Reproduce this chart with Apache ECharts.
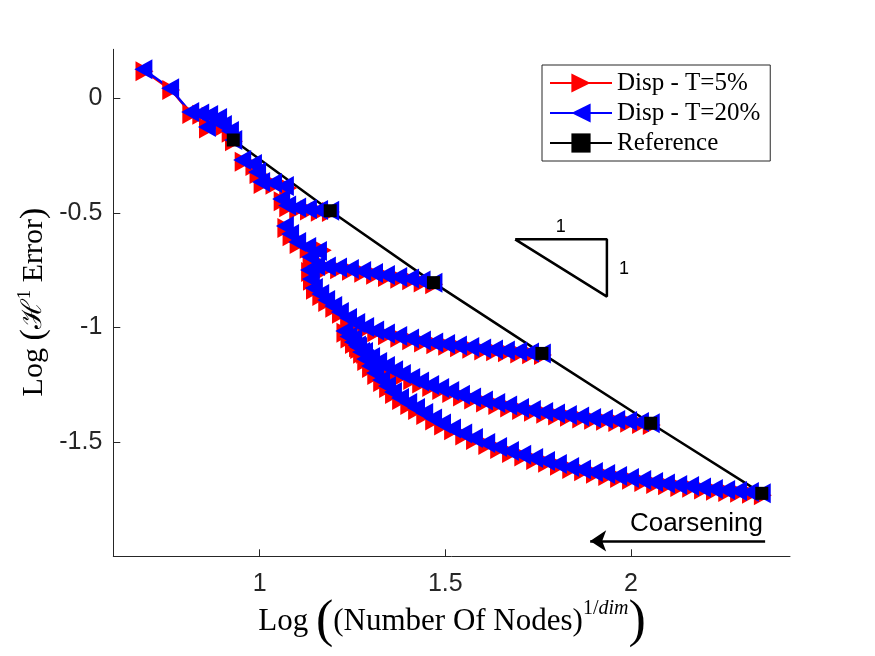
<!DOCTYPE html>
<html>
<head>
  <meta charset="UTF-8">
  <title>Disp coarsening</title>
  <script src="https://cdn.jsdelivr.net/npm/echarts@6/dist/echarts.min.js"></script>
  <style>
    html, body { margin: 0; width: 100%; height: 100%; background: #fff; }
    #chart { width: 875px; height: 656px; }
  </style>
</head>
<body>
  <div id="chart"></div>
  <script>
    // reference meshes
    const refX = [0.929, 1.190, 1.468, 1.760, 2.053, 2.352];
    const refY = [-0.182, -0.491, -0.805, -1.114, -1.419, -1.725];

    // Disp - T=20% (blue), one run per reference mesh
    const blue1 = [[0.929,-0.182],[0.920,-0.143],[0.901,-0.117],[0.858,-0.125],[0.888,-0.086],[0.864,-0.073],[0.840,-0.066],[0.813,-0.060],[0.759,0.044],[0.687,0.127]];
    const blue2 = [[1.190,-0.491],[1.160,-0.488],[1.130,-0.483],[1.101,-0.477],[1.074,-0.468],[1.058,-0.440],[1.068,-0.383],[1.036,-0.370],[1.004,-0.366],[0.993,-0.322],[0.982,-0.287],[0.953,-0.269]];
    const blue3 = [[1.468,-0.805],[1.436,-0.796],[1.405,-0.787],[1.373,-0.780],[1.340,-0.772],[1.308,-0.763],[1.276,-0.754],[1.243,-0.745],[1.211,-0.739],[1.181,-0.734],[1.152,-0.732],[1.136,-0.693],[1.157,-0.667],[1.128,-0.649],[1.101,-0.628],[1.082,-0.593],[1.068,-0.558]];
    const blue4 = [[1.760,-1.114],[1.728,-1.110],[1.696,-1.106],[1.663,-1.101],[1.631,-1.097],[1.599,-1.093],[1.567,-1.086],[1.534,-1.079],[1.502,-1.073],[1.470,-1.066],[1.437,-1.058],[1.405,-1.049],[1.373,-1.038],[1.340,-1.027],[1.311,-1.014],[1.284,-0.999],[1.260,-0.981],[1.238,-0.959],[1.216,-0.933],[1.198,-0.907],[1.179,-0.881],[1.163,-0.855],[1.146,-0.828],[1.138,-0.789],[1.133,-0.750]];
    const blue5 = [[2.053,-1.419],[2.024,-1.414],[1.992,-1.409],[1.960,-1.405],[1.927,-1.400],[1.895,-1.396],[1.863,-1.390],[1.830,-1.383],[1.798,-1.376],[1.766,-1.370],[1.733,-1.361],[1.701,-1.352],[1.669,-1.342],[1.637,-1.331],[1.604,-1.320],[1.572,-1.307],[1.542,-1.294],[1.513,-1.278],[1.486,-1.265],[1.459,-1.252],[1.432,-1.237],[1.408,-1.221],[1.383,-1.204],[1.362,-1.187],[1.340,-1.169],[1.319,-1.152],[1.300,-1.130],[1.281,-1.108],[1.265,-1.086],[1.251,-1.064],[1.239,-1.040],[1.228,-1.016]];
    const blue6 = [[2.352,-1.725],[2.320,-1.719],[2.288,-1.715],[2.256,-1.711],[2.223,-1.706],[2.191,-1.700],[2.159,-1.693],[2.127,-1.689],[2.094,-1.682],[2.062,-1.676],[2.030,-1.667],[1.997,-1.658],[1.965,-1.649],[1.933,-1.641],[1.900,-1.632],[1.868,-1.621],[1.836,-1.610],[1.803,-1.597],[1.771,-1.584],[1.739,-1.571],[1.707,-1.556],[1.674,-1.540],[1.642,-1.523],[1.610,-1.505],[1.577,-1.483],[1.548,-1.464],[1.518,-1.442],[1.491,-1.420],[1.467,-1.398],[1.443,-1.374],[1.421,-1.352],[1.400,-1.331],[1.378,-1.309],[1.359,-1.283],[1.343,-1.256],[1.327,-1.230],[1.311,-1.200],[1.297,-1.169],[1.284,-1.138],[1.273,-1.108],[1.262,-1.079],[1.252,-1.050]];

    // Disp - T=5% (red)
    const red1 = [[0.931,-0.188],[0.922,-0.150],[0.905,-0.122],[0.861,-0.132],[0.892,-0.092],[0.868,-0.080],[0.843,-0.072],[0.816,-0.068],[0.762,0.036],[0.690,0.118]];
    const red2 = [[1.192,-0.497],[1.162,-0.495],[1.133,-0.490],[1.104,-0.484],[1.077,-0.476],[1.062,-0.449],[1.077,-0.392],[1.040,-0.378],[1.008,-0.374],[0.997,-0.331],[0.986,-0.296],[0.957,-0.277]];
    const red3 = [[1.470,-0.812],[1.439,-0.804],[1.408,-0.795],[1.376,-0.788],[1.343,-0.780],[1.311,-0.771],[1.279,-0.762],[1.246,-0.753],[1.214,-0.747],[1.184,-0.742],[1.155,-0.740],[1.140,-0.702],[1.170,-0.664],[1.132,-0.657],[1.105,-0.636],[1.086,-0.602],[1.072,-0.566]];
    const red4 = [[1.763,-1.121],[1.731,-1.118],[1.699,-1.114],[1.666,-1.109],[1.634,-1.105],[1.602,-1.101],[1.570,-1.094],[1.537,-1.087],[1.505,-1.081],[1.473,-1.074],[1.440,-1.066],[1.408,-1.057],[1.376,-1.046],[1.343,-1.035],[1.314,-1.022],[1.287,-1.007],[1.263,-0.989],[1.241,-0.967],[1.219,-0.941],[1.201,-0.915],[1.182,-0.889],[1.166,-0.863],[1.149,-0.836],[1.141,-0.797],[1.136,-0.758]];
    const red5 = [[2.056,-1.427],[2.027,-1.422],[1.995,-1.417],[1.963,-1.413],[1.930,-1.408],[1.898,-1.404],[1.866,-1.398],[1.833,-1.391],[1.801,-1.385],[1.769,-1.378],[1.736,-1.369],[1.704,-1.361],[1.672,-1.350],[1.640,-1.339],[1.607,-1.328],[1.575,-1.315],[1.545,-1.302],[1.516,-1.287],[1.489,-1.274],[1.462,-1.261],[1.435,-1.245],[1.411,-1.230],[1.386,-1.212],[1.365,-1.195],[1.343,-1.178],[1.322,-1.160],[1.303,-1.138],[1.284,-1.116],[1.268,-1.095],[1.254,-1.073],[1.242,-1.049],[1.231,-1.024]];
    const red6 = [[2.355,-1.733],[2.323,-1.727],[2.291,-1.723],[2.259,-1.719],[2.226,-1.714],[2.194,-1.708],[2.162,-1.701],[2.130,-1.697],[2.097,-1.690],[2.065,-1.684],[2.033,-1.675],[2.000,-1.666],[1.968,-1.658],[1.936,-1.649],[1.903,-1.640],[1.871,-1.629],[1.839,-1.619],[1.806,-1.605],[1.774,-1.592],[1.742,-1.579],[1.710,-1.564],[1.677,-1.549],[1.645,-1.531],[1.613,-1.514],[1.580,-1.492],[1.551,-1.472],[1.521,-1.450],[1.494,-1.429],[1.470,-1.407],[1.446,-1.383],[1.424,-1.361],[1.403,-1.339],[1.381,-1.317],[1.362,-1.291],[1.346,-1.265],[1.330,-1.239],[1.314,-1.208],[1.300,-1.178],[1.287,-1.147],[1.276,-1.116],[1.265,-1.087],[1.255,-1.058]];

    const xTicks = [1, 1.5, 2];
    const yTicks = [0, -0.5, -1, -1.5];

    // annotations (data coordinates)
    const slopeTri = [[1.688,-0.616],[1.935,-0.616],[1.935,-0.866],[1.688,-0.616]];
    const slopeLabels = [[1.811,-0.561],[1.981,-0.747]];
    const arrowFrom = [2.361, -1.933];
    const arrowTo = [1.890, -1.933];
    const coarsenPos = [2.355, -1.859];

    const NAME_RED = 'Disp - T=5%';
    const NAME_BLUE = 'Disp - T=20%';
    const NAME_REF = 'Reference';
    const serif = 'Liberation Serif, DejaVu Serif, serif';
    const sans = 'Liberation Sans, Arial, sans-serif';
    const axisColor = '#262626';

    const triRight = 'path://M0,0L10,5L0,10Z';
    const triLeft = 'path://M10,0L0,5L10,10Z';

    function run(name, data, color, symbol) {
      return {
        name: name,
        type: 'line',
        data: data,
        symbol: symbol,
        symbolSize: [18, 20],
        showAllSymbol: true,
        itemStyle: { color: color, opacity: 1 },
        lineStyle: { color: color, width: 2.5 },
        emphasis: { disabled: true },
        animation: false
      };
    }

    const series = [];
    [red1, red2, red3, red4, red5, red6].forEach(d => series.push(run(NAME_RED, d, '#ff0000', triRight)));
    [blue1, blue2, blue3, blue4, blue5, blue6].forEach(d => series.push(run(NAME_BLUE, d, '#0000ff', triLeft)));

    series.push({
      name: NAME_REF,
      type: 'line',
      data: refX.map((x, i) => [x, refY[i]]),
      symbol: 'rect',
      symbolSize: 13,
      itemStyle: { color: '#000' },
      lineStyle: { color: '#000', width: 2.5 },
      emphasis: { disabled: true },
      animation: false,
      z: 3
    });

    // slope triangle + coarsening arrow
    series.push({
      name: 'slope',
      type: 'line',
      data: slopeTri,
      symbol: 'none',
      lineStyle: { color: '#000', width: 2.5 },
      silent: true,
      animation: false,
      markLine: {
        silent: true,
        animation: false,
        symbol: ['none', 'arrow'],
        symbolSize: 16,
        lineStyle: { color: '#000', width: 2.5, type: 'solid' },
        label: { show: false },
        data: [[{ coord: arrowFrom }, { coord: arrowTo }]]
      }
    });

    series.push({
      name: 'labels',
      type: 'scatter',
      symbolSize: 0,
      silent: true,
      animation: false,
      itemStyle: { opacity: 1 },
      data: [
        { value: slopeLabels[0], label: { formatter: '1' } },
        { value: slopeLabels[1], label: { formatter: '1' } },
        { value: coarsenPos, label: { formatter: 'Coarsening', position: 'left', distance: 0, fontSize: 26 } }
      ],
      label: {
        show: true,
        position: 'inside',
        color: '#000',
        opacity: 1,
        fontFamily: sans,
        fontSize: 18
      }
    });

    const chart = echarts.init(document.getElementById('chart'));
    chart.setOption({
      backgroundColor: '#fff',
      animation: false,
      grid: { left: 113.3, top: 49.3, width: 676.7, height: 507 },
      xAxis: {
        type: 'value',
        min: 0.606,
        max: 2.428,
        axisLine: { show: true, onZero: false, lineStyle: { color: axisColor, width: 1 } },
        axisTick: { show: true, inside: true, length: 7, customValues: xTicks, lineStyle: { color: axisColor } },
        axisLabel: { customValues: xTicks, margin: 15, color: axisColor, fontFamily: sans, fontSize: 25 },
        splitLine: { show: false }
      },
      yAxis: {
        type: 'value',
        min: -2,
        max: 0.214,
        axisLine: { show: true, onZero: false, lineStyle: { color: axisColor, width: 1 } },
        axisTick: { show: true, inside: true, length: 7, customValues: yTicks, lineStyle: { color: axisColor } },
        axisLabel: { customValues: yTicks, margin: 11, color: axisColor, fontFamily: sans, fontSize: 25 },
        splitLine: { show: false }
      },
      legend: {
        data: [NAME_RED, NAME_BLUE, NAME_REF],
        orient: 'vertical',
        left: 542,
        top: 65,
        padding: [5, 10, 5, 7],
        itemGap: 4,
        itemWidth: 62,
        itemHeight: 24,
        backgroundColor: '#fff',
        borderColor: axisColor,
        borderWidth: 1,
        borderRadius: 0,
        selectedMode: false,
        textStyle: { fontFamily: serif, fontSize: 25, lineHeight: 26, color: '#000' }
      },
      graphic: [
        {
          type: 'text',
          x: 452,
          y: 622,
          silent: true,
          style: {
            text: '{n|Log }{b|(}{n|(Number Of Nodes)}{s|1/}{si|dim}{b|)}',
            align: 'center',
            verticalAlign: 'middle',
            fill: '#000',
            rich: {
              n: { fontFamily: serif, fontSize: 31, fill: '#000' },
              b: { fontFamily: serif, fontSize: 52, fill: '#000' },
              s: { fontFamily: serif, fontSize: 20, padding: [0, 0, 26, 0], fill: '#000' },
              si: { fontFamily: serif, fontSize: 20, fontStyle: 'italic', padding: [0, 0, 26, 0], fill: '#000' }
            }
          }
        },
        {
          type: 'text',
          x: 34,
          y: 302,
          rotation: Math.PI / 2,
          silent: true,
          style: {
            text: '{n|Log }{p|(}{h|ℋ}{s|1}{n| Error}{p|)}',
            align: 'center',
            verticalAlign: 'middle',
            fill: '#000',
            rich: {
              n: { fontFamily: serif, fontSize: 30, fill: '#000' },
              p: { fontFamily: serif, fontSize: 34, fill: '#000' },
              h: { fontFamily: 'DejaVu Serif, serif', fontSize: 28, fill: '#000' },
              s: { fontFamily: serif, fontSize: 19, padding: [0, 0, 18, 0], fill: '#000' }
            }
          }
        }
      ],
      series: series
    });
  </script>
</body>
</html>
